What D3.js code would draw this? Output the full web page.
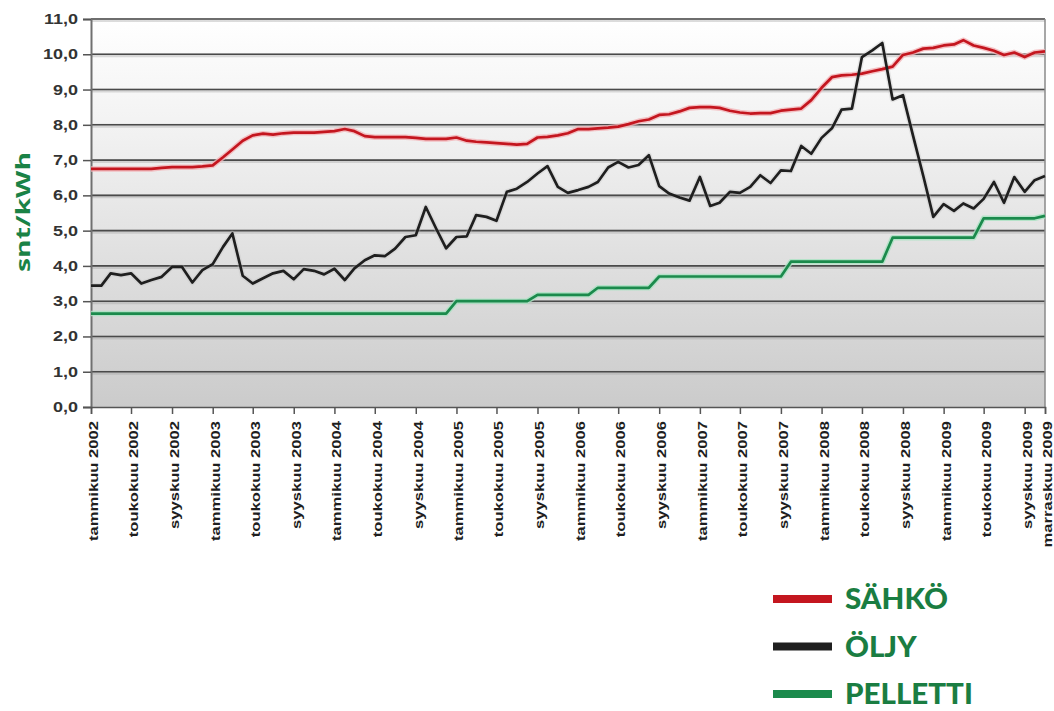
<!DOCTYPE html>
<html lang="fi">
<head>
<meta charset="UTF-8">
<title>snt/kWh</title>
<script src="https://cdnjs.cloudflare.com/ajax/libs/d3/7.8.5/d3.min.js"></script>
<style>
    body { margin: 0; background: #fff; }
    #CHART { display: block; font-family: "Open Sans", sans-serif; }
    #CHART .y-label { font-size: 14px; font-weight: 700; fill: #333; }
    #CHART .x-label { font-size: 12.5px; font-weight: 600; fill: #1e1e1e; }
    #CHART .y-title { font-size: 20px; font-weight: 700; fill: #1a8246; }
    #CHART .legend-label { font-family: Lato, "Open Sans", sans-serif; font-size: 28px; font-weight: 900; fill: #1a7d42; }
</style>
</head>
<body>
<svg id="CHART"></svg>
<script>
// kuukausittaiset hinnat, tammikuu 2002 - marraskuu 2009
var sahko = [
    6.75, 6.75, 6.75, 6.75, 6.75, 6.75, 6.75, 6.78, 6.8, 6.8, 6.8, 6.82,
    6.85, 7.08, 7.3, 7.55, 7.7, 7.75, 7.72, 7.76, 7.78, 7.78, 7.78, 7.8,
    7.82, 7.88, 7.82, 7.68, 7.65, 7.65, 7.65, 7.65, 7.63, 7.6, 7.6, 7.6,
    7.64, 7.55, 7.52, 7.5, 7.48, 7.46, 7.44, 7.46, 7.64, 7.66, 7.7, 7.76,
    7.88, 7.88, 7.9, 7.92, 7.95, 8.02, 8.1, 8.15, 8.28, 8.3, 8.38, 8.48,
    8.5, 8.5, 8.48, 8.4, 8.35, 8.32, 8.33, 8.33, 8.4, 8.43, 8.46, 8.7,
    9.05, 9.35, 9.4, 9.42, 9.45, 9.52, 9.58, 9.65, 9.98, 10.05, 10.16, 10.18,
    10.25, 10.28, 10.4, 10.25, 10.18, 10.1, 9.98, 10.05, 9.92, 10.05, 10.08
];
var oljy = [
    3.44, 3.44, 3.79, 3.74, 3.79, 3.5, 3.6, 3.69, 3.97, 3.97, 3.53, 3.88,
    4.05, 4.54, 4.92, 3.72, 3.5, 3.65, 3.79, 3.86, 3.62, 3.91, 3.86, 3.76,
    3.92, 3.6, 3.93, 4.16, 4.3, 4.28, 4.49, 4.82, 4.87, 5.67, 5.06, 4.5,
    4.82, 4.84, 5.44, 5.39, 5.28, 6.1, 6.19, 6.38, 6.62, 6.83, 6.24, 6.07,
    6.15, 6.24, 6.38, 6.79, 6.95, 6.79, 6.86, 7.14, 6.26, 6.05, 5.94, 5.85,
    6.52, 5.7, 5.79, 6.1, 6.07, 6.24, 6.57, 6.35, 6.71, 6.69, 7.4, 7.18,
    7.63, 7.9, 8.43, 8.46, 9.92, 10.11, 10.32, 8.72, 8.84, 7.7, 6.55, 5.39,
    5.75, 5.56, 5.77, 5.63, 5.9, 6.38, 5.79, 6.52, 6.1, 6.43, 6.55
];
var pelletti = [
    2.65, 2.65, 2.65, 2.65, 2.65, 2.65, 2.65, 2.65, 2.65, 2.65, 2.65, 2.65,
    2.65, 2.65, 2.65, 2.65, 2.65, 2.65, 2.65, 2.65, 2.65, 2.65, 2.65, 2.65,
    2.65, 2.65, 2.65, 2.65, 2.65, 2.65, 2.65, 2.65, 2.65, 2.65, 2.65, 2.65,
    3.0, 3.0, 3.0, 3.0, 3.0, 3.0, 3.0, 3.0, 3.18, 3.18, 3.18, 3.18,
    3.18, 3.18, 3.38, 3.38, 3.38, 3.38, 3.38, 3.38, 3.7, 3.7, 3.7, 3.7,
    3.7, 3.7, 3.7, 3.7, 3.7, 3.7, 3.7, 3.7, 3.7, 4.12, 4.12, 4.12,
    4.12, 4.12, 4.12, 4.12, 4.12, 4.12, 4.12, 4.8, 4.8, 4.8, 4.8, 4.8,
    4.8, 4.8, 4.8, 4.8, 5.35, 5.35, 5.35, 5.35, 5.35, 5.35, 5.42
];
var seriesNames = ["SÄHKÖ", "ÖLJY", "PELLETTI"];
var yTicks = [0, 1, 2, 3, 4, 5, 6, 7, 8, 9, 10, 11];
var tickMonths = [
    "2002-01", "2002-05", "2002-09", "2003-01", "2003-05", "2003-09",
    "2004-01", "2004-05", "2004-09", "2005-01", "2005-05", "2005-09",
    "2006-01", "2006-05", "2006-09", "2007-01", "2007-05", "2007-09",
    "2008-01", "2008-05", "2008-09", "2009-01", "2009-05", "2009-09", "2009-11"
];
var tickLabels = [
    "tammikuu 2002", "toukokuu 2002", "syyskuu 2002", "tammikuu 2003", "toukokuu 2003", "syyskuu 2003",
    "tammikuu 2004", "toukokuu 2004", "syyskuu 2004", "tammikuu 2005", "toukokuu 2005", "syyskuu 2005",
    "tammikuu 2006", "toukokuu 2006", "syyskuu 2006", "tammikuu 2007", "toukokuu 2007", "syyskuu 2007",
    "tammikuu 2008", "toukokuu 2008", "syyskuu 2008", "tammikuu 2009", "toukokuu 2009", "syyskuu 2009", "marraskuu 2009"
];

var width = 1054, height = 711;
var plot = { left: 91, right: 1045, top: 19, bottom: 407 };

var parseMonth = d3.timeParse("%Y-%m");
var months = d3.timeMonth.range(new Date(2002, 0, 1), new Date(2009, 11, 1));
var fi = d3.formatLocale({ decimal: ",", thousands: " ", grouping: [3], currency: ["", "€"] });

var x = d3.scaleTime()
    .domain([months[0], months[months.length - 1]])
    .range([plot.left, plot.right]);
var y = d3.scaleLinear().domain([0, 11]).range([plot.bottom, plot.top]);

var color = d3.scaleOrdinal().domain(seriesNames).range(["#c4161f", "#1f1f1f", "#1b8a4c"]);
var halo = d3.scaleOrdinal().domain(seriesNames).range(["#f2b3b6", "#bdbdbd", "#a9e2c2"]);

var svg = d3.select("#CHART").attr("width", width).attr("height", height);

// taustan liukuväri
var grad = svg.append("defs").append("linearGradient")
    .attr("id", "bg").attr("x1", 0).attr("y1", 0).attr("x2", 0).attr("y2", 1);
grad.append("stop").attr("offset", "0%").attr("stop-color", "#ffffff");
grad.append("stop").attr("offset", "30%").attr("stop-color", "#f1f1f1");
grad.append("stop").attr("offset", "100%").attr("stop-color", "#cbcbcb");

svg.append("rect")
    .attr("x", plot.left).attr("y", plot.top)
    .attr("width", plot.right - plot.left).attr("height", plot.bottom - plot.top)
    .attr("fill", "url(#bg)");

// ruudukko
var grid = svg.append("g");
grid.selectAll("line.soft")
    .data(yTicks.slice(1))
    .join("line")
        .attr("class", "soft")
        .attr("x1", plot.left).attr("x2", plot.right)
        .attr("y1", function(d){ return y(d) + 1; }).attr("y2", function(d){ return y(d) + 1; })
        .attr("stroke", "#9a9a9a").attr("stroke-opacity", 0.35).attr("stroke-width", 4);
grid.selectAll("line.main")
    .data(yTicks.slice(1))
    .join("line")
        .attr("class", "main")
        .attr("x1", plot.left).attr("x2", plot.right)
        .attr("y1", function(d){ return y(d); }).attr("y2", function(d){ return y(d); })
        .attr("stroke", "#4a4a4a").attr("stroke-width", 1.6);

svg.append("line")
    .attr("x1", plot.right).attr("x2", plot.right)
    .attr("y1", plot.top).attr("y2", plot.bottom)
    .attr("stroke", "#8a8a8a").attr("stroke-width", 1.5);

// akselit
var yAxis = svg.append("g")
    .attr("transform", "translate(" + plot.left + ",0)")
    .call(d3.axisLeft(y).tickValues(yTicks).tickFormat(fi.format(".1f")).tickSize(8).tickPadding(5));
yAxis.select(".domain").attr("stroke", "#707070").attr("stroke-width", 2);
yAxis.selectAll(".tick line").attr("stroke", "#555").attr("stroke-width", 1.5);
yAxis.selectAll("text").attr("class", "y-label").attr("font-family", null).attr("font-size", null);

var xAxis = svg.append("g")
    .attr("transform", "translate(0," + plot.bottom + ")")
    .call(d3.axisBottom(x).tickValues(tickMonths.map(parseMonth)).tickFormat(function(d, i){ return tickLabels[i]; }).tickSize(7));
xAxis.select(".domain").attr("stroke", "#555").attr("stroke-width", 1.5);
xAxis.selectAll(".tick line").attr("stroke", "#555").attr("stroke-width", 1.5);
var xText = xAxis.selectAll("text")
    .attr("class", "x-label").attr("font-family", null).attr("font-size", null)
    .attr("y", 0).attr("dy", null);

// tekstien leveys kuvan mukaan
var xScaleText = 120 / xText.node().getComputedTextLength();
xText
    .attr("text-anchor", "end")
    .attr("dy", "0.36em")
    .attr("transform", "translate(2,14) rotate(-90) scale(" + xScaleText + ",1)");

var yScaleText = 35 / yAxis.selectAll("text").filter(function(d){ return d === 10; }).node().getComputedTextLength();
yAxis.selectAll("text")
    .attr("x", null)
    .attr("transform", function(){ return "translate(-13,0) scale(" + yScaleText + ",1)"; });

// y-akselin otsikko
var title = svg.append("text")
    .attr("class", "y-title")
    .attr("text-anchor", "middle")
    .attr("dy", "0.36em")
    .text("snt/kWh");
var titleScale = 120 / title.node().getComputedTextLength();
title.attr("transform", "translate(23,212) rotate(-90) scale(" + titleScale + ",1)");

// viivat
var table = seriesNames.map(function(name, k){
    var vals = [sahko, oljy, pelletti][k];
    return { name: name, points: months.map(function(m, i){ return { date: m, v: vals[i] }; }) };
});
var line = d3.line()
    .x(function(d){ return x(d.date); })
    .y(function(d){ return y(d.v); });

var drawOrder = [table[2], table[0], table[1]];
var lines = svg.append("g").attr("fill", "none").attr("stroke-linejoin", "round");
lines.selectAll("path.halo")
    .data(drawOrder)
    .join("path")
        .attr("class", "halo")
        .attr("d", function(d){ return line(d.points); })
        .attr("stroke", function(d){ return halo(d.name); })
        .attr("stroke-opacity", function(d){ return d.name === "ÖLJY" ? 0.3 : 0.8; })
        .attr("stroke-width", 5.5);
lines.selectAll("path.series")
    .data(drawOrder)
    .join("path")
        .attr("class", "series")
        .attr("d", function(d){ return line(d.points); })
        .attr("stroke", function(d){ return color(d.name); })
        .attr("stroke-width", 2.7);

// selite
var legend = svg.append("g").attr("class", "legend");
var legendY = d3.scalePoint().domain(seriesNames).range([599, 694]);
var item = legend.selectAll("g")
    .data(seriesNames)
    .join("g")
        .attr("transform", function(d){ return "translate(773," + legendY(d) + ")"; });
item.append("line")
    .attr("x1", 0).attr("x2", 59)
    .attr("stroke", function(d){ return color(d); })
    .attr("stroke-width", 8);
var legendText = item.append("text")
    .attr("class", "legend-label")
    .attr("x", 0)
    .attr("dy", "0.36em")
    .text(function(d){ return d; });
var legendScale = 128 / legendText.filter(function(d){ return d === "PELLETTI"; }).node().getComputedTextLength();
legendText.attr("transform", "translate(72,0) scale(" + legendScale + ",1)");
</script>
</body>
</html>
